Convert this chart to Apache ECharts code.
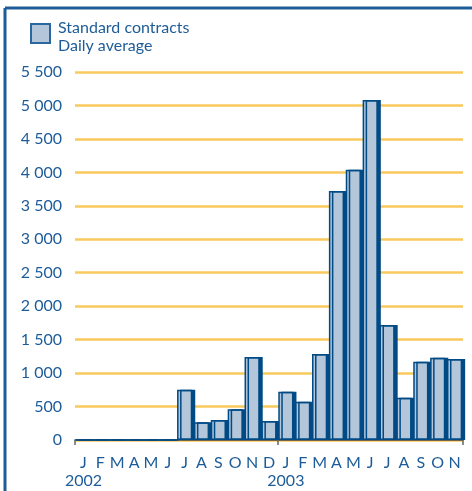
<!DOCTYPE html>
<html>
<head>
<meta charset="utf-8">
<script src="https://cdn.jsdelivr.net/npm/echarts@6/dist/echarts.min.js"></script>
<style>
  html, body { margin: 0; padding: 0; background: #fff; }
  #chart { width: 472px; height: 491px; }
</style>
</head>
<body>
<div id="chart"></div>
<script>
const months = ['J', 'F', 'M', 'A', 'M', 'J', 'J', 'A', 'S', 'O', 'N', 'D',
                'J', 'F', 'M', 'A', 'M', 'J', 'J', 'A', 'S', 'O', 'N']
const yearLabels = { 0: '2002', 12: '2003' }
const dailyAverage = [0, 0, 0, 0, 0, 0, 750, 265, 300, 460, 1240, 285,
                      720, 570, 1285, 3720, 4040, 5080, 1720, 630, 1170, 1230, 1210]
const legendLines = ['Standard contracts', 'Daily average']

const blue = '#1d5c98'
const dark = '#004a85'
const font = 'Lato, "Open Sans", sans-serif'

const chart = echarts.init(document.getElementById('chart'))

chart.setOption({
  animation: false,
  textStyle: { fontFamily: font },
  grid: { left: 75, right: 9, top: 72, bottom: 51 },
  xAxis: {
    type: 'category',
    data: months,
    axisLine: { lineStyle: { color: '#444', width: 1.5 } },
    axisTick: {
      show: true, length: 5,
      interval: (i) => i === 0 || i === 12,
      lineStyle: { color: '#666', width: 1.5 }
    },
    axisLabel: {
      interval: 0, margin: 14, color: blue, fontSize: 16, lineHeight: 18,
      formatter: (v, i) => yearLabels[i] ? v + '\n' + yearLabels[i] : v
    }
  },
  yAxis: {
    type: 'value',
    min: 0, max: 5500, interval: 500,
    axisLine: { show: false },
    axisTick: { show: false },
    axisLabel: {
      color: blue, fontSize: 16, margin: 13,
      formatter: (v) => String(v).replace(/\B(?=(\d{3})+(?!\d))/g, ' ')
    },
    splitLine: { lineStyle: { color: '#f8c95c', width: 2.5 } }
  },
  series: [{
    name: legendLines.join(' '),
    type: 'bar',
    data: dailyAverage,
    barCategoryGap: '10%',
    itemStyle: {
      color: '#b3c6da',
      borderColor: dark,
      borderWidth: 1.5,
      shadowColor: dark,
      shadowBlur: 0,
      shadowOffsetX: 3,
      shadowOffsetY: 0
    }
  }],
  graphic: [
    { type: 'line', shape: { x1: 5, y1: 8, x2: 472, y2: 8 }, style: { stroke: blue, lineWidth: 3 } },
    { type: 'line', shape: { x1: 5, y1: 8, x2: 5, y2: 491 }, style: { stroke: blue, lineWidth: 3 } },
    { type: 'rect', shape: { x: 31, y: 24, width: 19, height: 19 },
      style: { fill: '#b3c6da', stroke: '#2a66a0', lineWidth: 2 } },
    { type: 'text', x: 58, y: 19,
      style: { text: legendLines.join('\n'), fill: blue, font: '16px ' + font, lineHeight: 18 } }
  ]
})
</script>
</body>
</html>
